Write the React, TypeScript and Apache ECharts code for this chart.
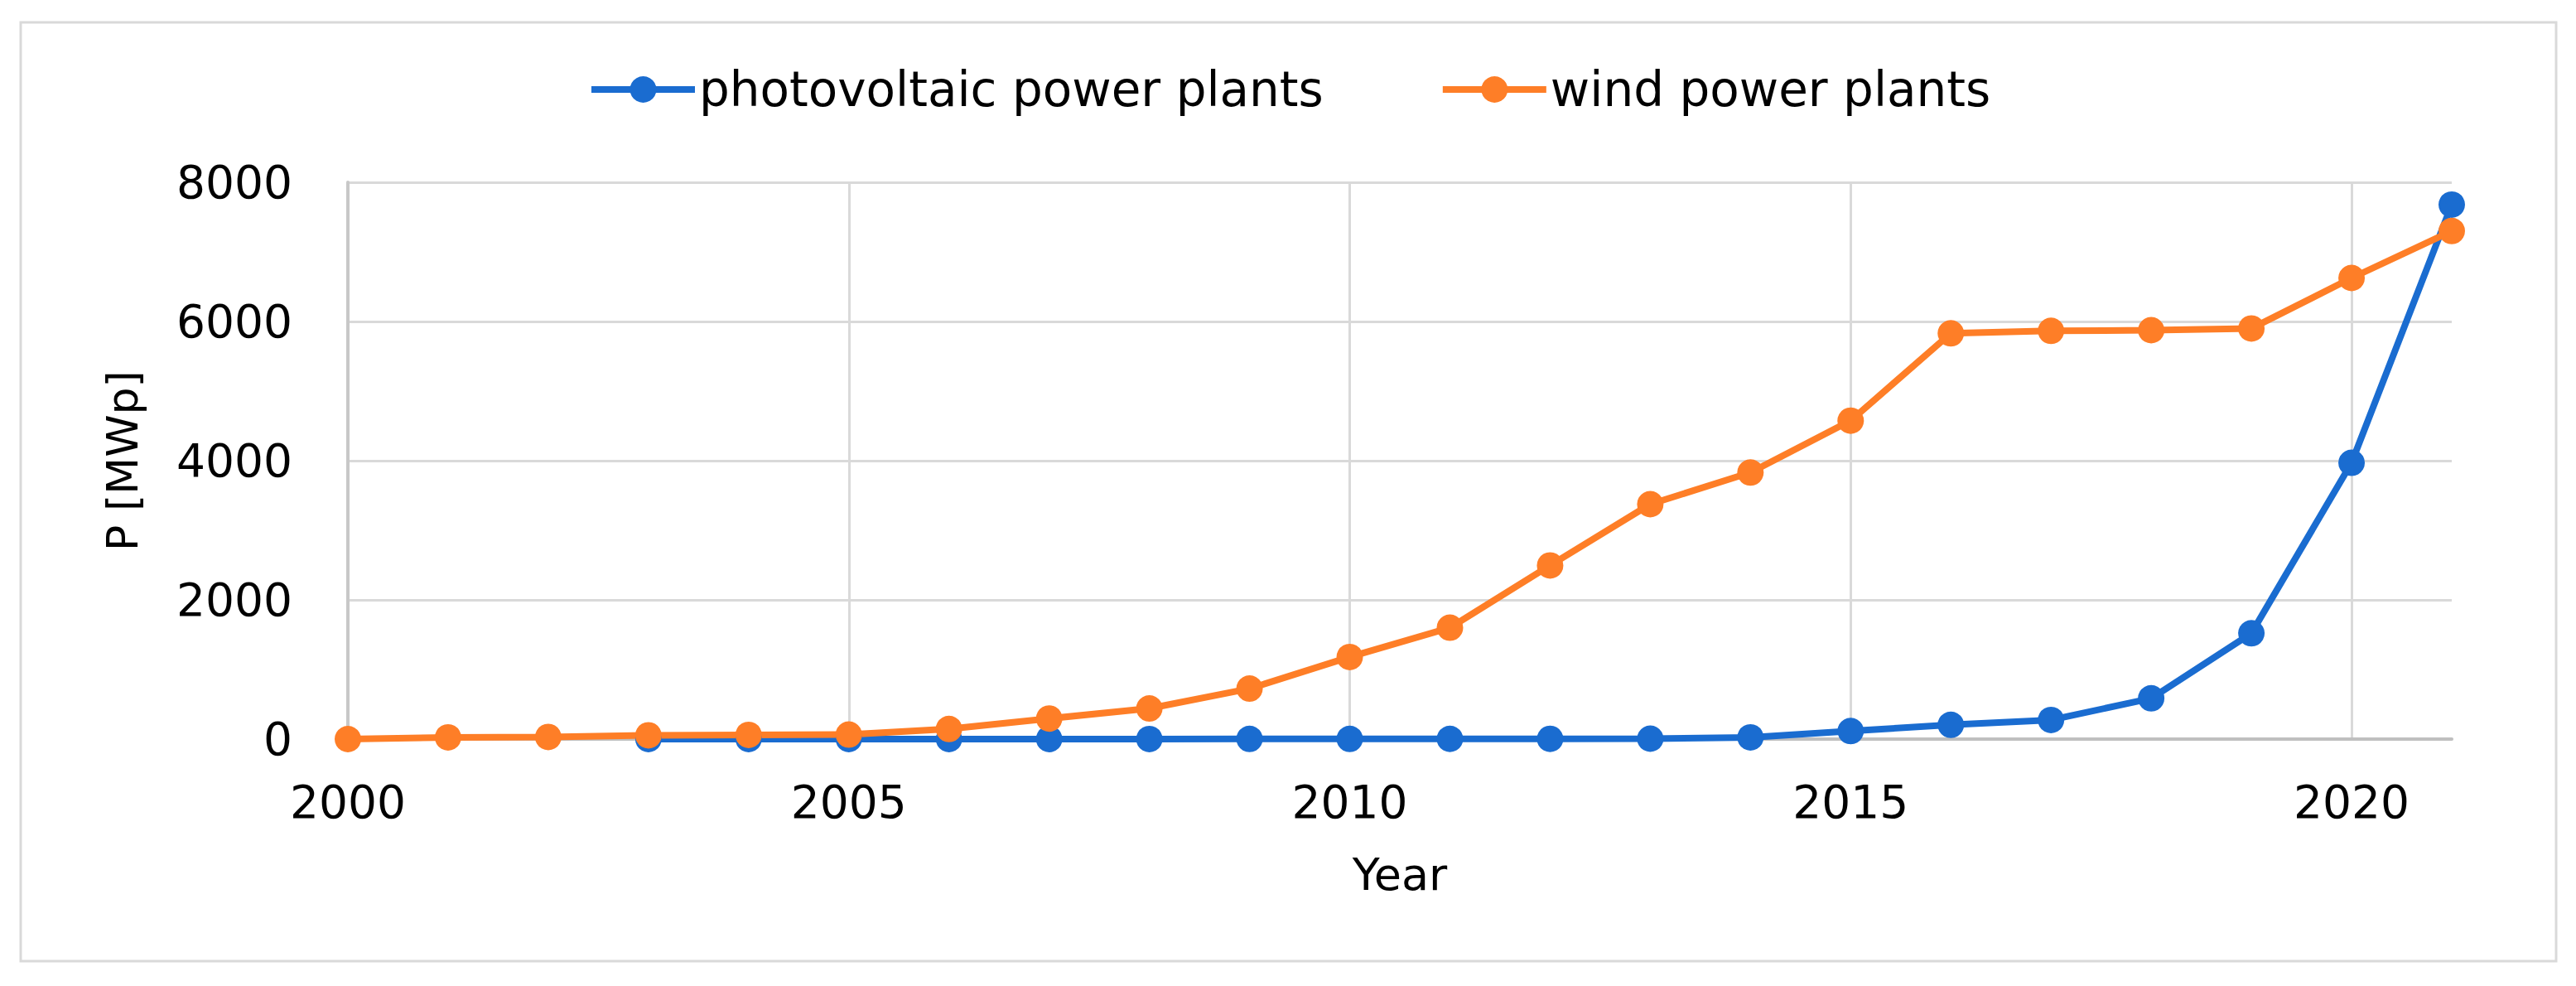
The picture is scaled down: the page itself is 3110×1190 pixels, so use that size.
import React, { useEffect, useRef } from "react";
import * as echarts from "echarts";

const years: string[] = [
  "2000", "2001", "2002", "2003", "2004", "2005", "2006", "2007", "2008", "2009", "2010",
  "2011", "2012", "2013", "2014", "2015", "2016", "2017", "2018", "2019", "2020", "2021",
];

const photovoltaic: (number | null)[] = [
  null, null, null, 0, 0, 0, 0, 1, 1, 2, 2,
  3, 4, 6, 25, 115, 205, 275, 585, 1520, 3970, 7680,
];

const wind: number[] = [
  0, 25, 30, 55, 60, 65, 145, 295, 440, 725, 1180,
  1600, 2495, 3375, 3830, 4575, 5830, 5865, 5875, 5900, 6625, 7300,
];

const yTicks = { min: 0, max: 8000, interval: 2000 };

const seriesNames = ["photovoltaic power plants", "wind power plants"];
const colors = ["#1A6CD0", "#FE7E27"];

export default function App() {
  const ref = useRef<HTMLDivElement>(null);

  useEffect(() => {
    if (!ref.current) return;
    const chart = echarts.init(ref.current, undefined, { renderer: "svg" });
    const font = "DejaVu Sans";
    chart.setOption({
      animation: false,
      backgroundColor: "#ffffff",
      textStyle: { fontFamily: font, color: "#000" },
      graphic: [
        {
          type: "rect",
          shape: { x: 25, y: 27, width: 3061, height: 1133 },
          style: { fill: "none", stroke: "#d9d9d9", lineWidth: 3 },
          silent: true,
        },
      ],
      legend: {
        top: 74,
        left: 705,
        itemWidth: 125,
        itemHeight: 40,
        itemGap: 140,
        lineStyle: { width: 8 },
        textStyle: { fontFamily: font, fontSize: 58, color: "#000" },
        data: seriesNames,
      },
      grid: { left: 420, right: 150, top: 220, bottom: 298, containLabel: false },
      xAxis: {
        type: "category",
        data: years,
        boundaryGap: false,
        name: "Year",
        nameLocation: "middle",
        nameGap: 136,
        nameTextStyle: { fontFamily: font, fontSize: 54, color: "#000" },
        axisLine: { show: true, lineStyle: { color: "#bfbfbf", width: 4 } },
        axisTick: { show: false },
        axisLabel: { interval: 4, margin: 48, fontSize: 55, color: "#000", fontFamily: font },
        splitLine: { show: true, interval: 4, lineStyle: { color: "#d9d9d9", width: 3 } },
      },
      yAxis: {
        type: "value",
        min: yTicks.min,
        max: yTicks.max,
        interval: yTicks.interval,
        name: "P [MWp]",
        nameLocation: "middle",
        nameRotate: 90,
        nameGap: 246,
        nameTextStyle: { fontFamily: font, fontSize: 52, color: "#000" },
        axisLine: { show: true, lineStyle: { color: "#c8c8c8", width: 4 } },
        axisTick: { show: false },
        axisLabel: {
          margin: 67,
          fontSize: 55,
          color: "#000",
          fontFamily: font,
          formatter: (v: number) => String(v),
        },
        splitLine: { show: true, lineStyle: { color: "#d9d9d9", width: 3 } },
      },
      series: [
        {
          name: seriesNames[0],
          type: "line",
          data: photovoltaic,
          symbol: "circle",
          symbolSize: 32,
          itemStyle: { color: colors[0] },
          lineStyle: { color: colors[0], width: 8 },
          connectNulls: false,
        },
        {
          name: seriesNames[1],
          type: "line",
          data: wind,
          symbol: "circle",
          symbolSize: 32,
          itemStyle: { color: colors[1] },
          lineStyle: { color: colors[1], width: 8 },
        },
      ],
    });
    return () => chart.dispose();
  }, []);

  return (
    <div
      ref={ref}
      style={{ position: "absolute", left: 0, top: 0, width: 3110, height: 1190 }}
    />
  );
}
